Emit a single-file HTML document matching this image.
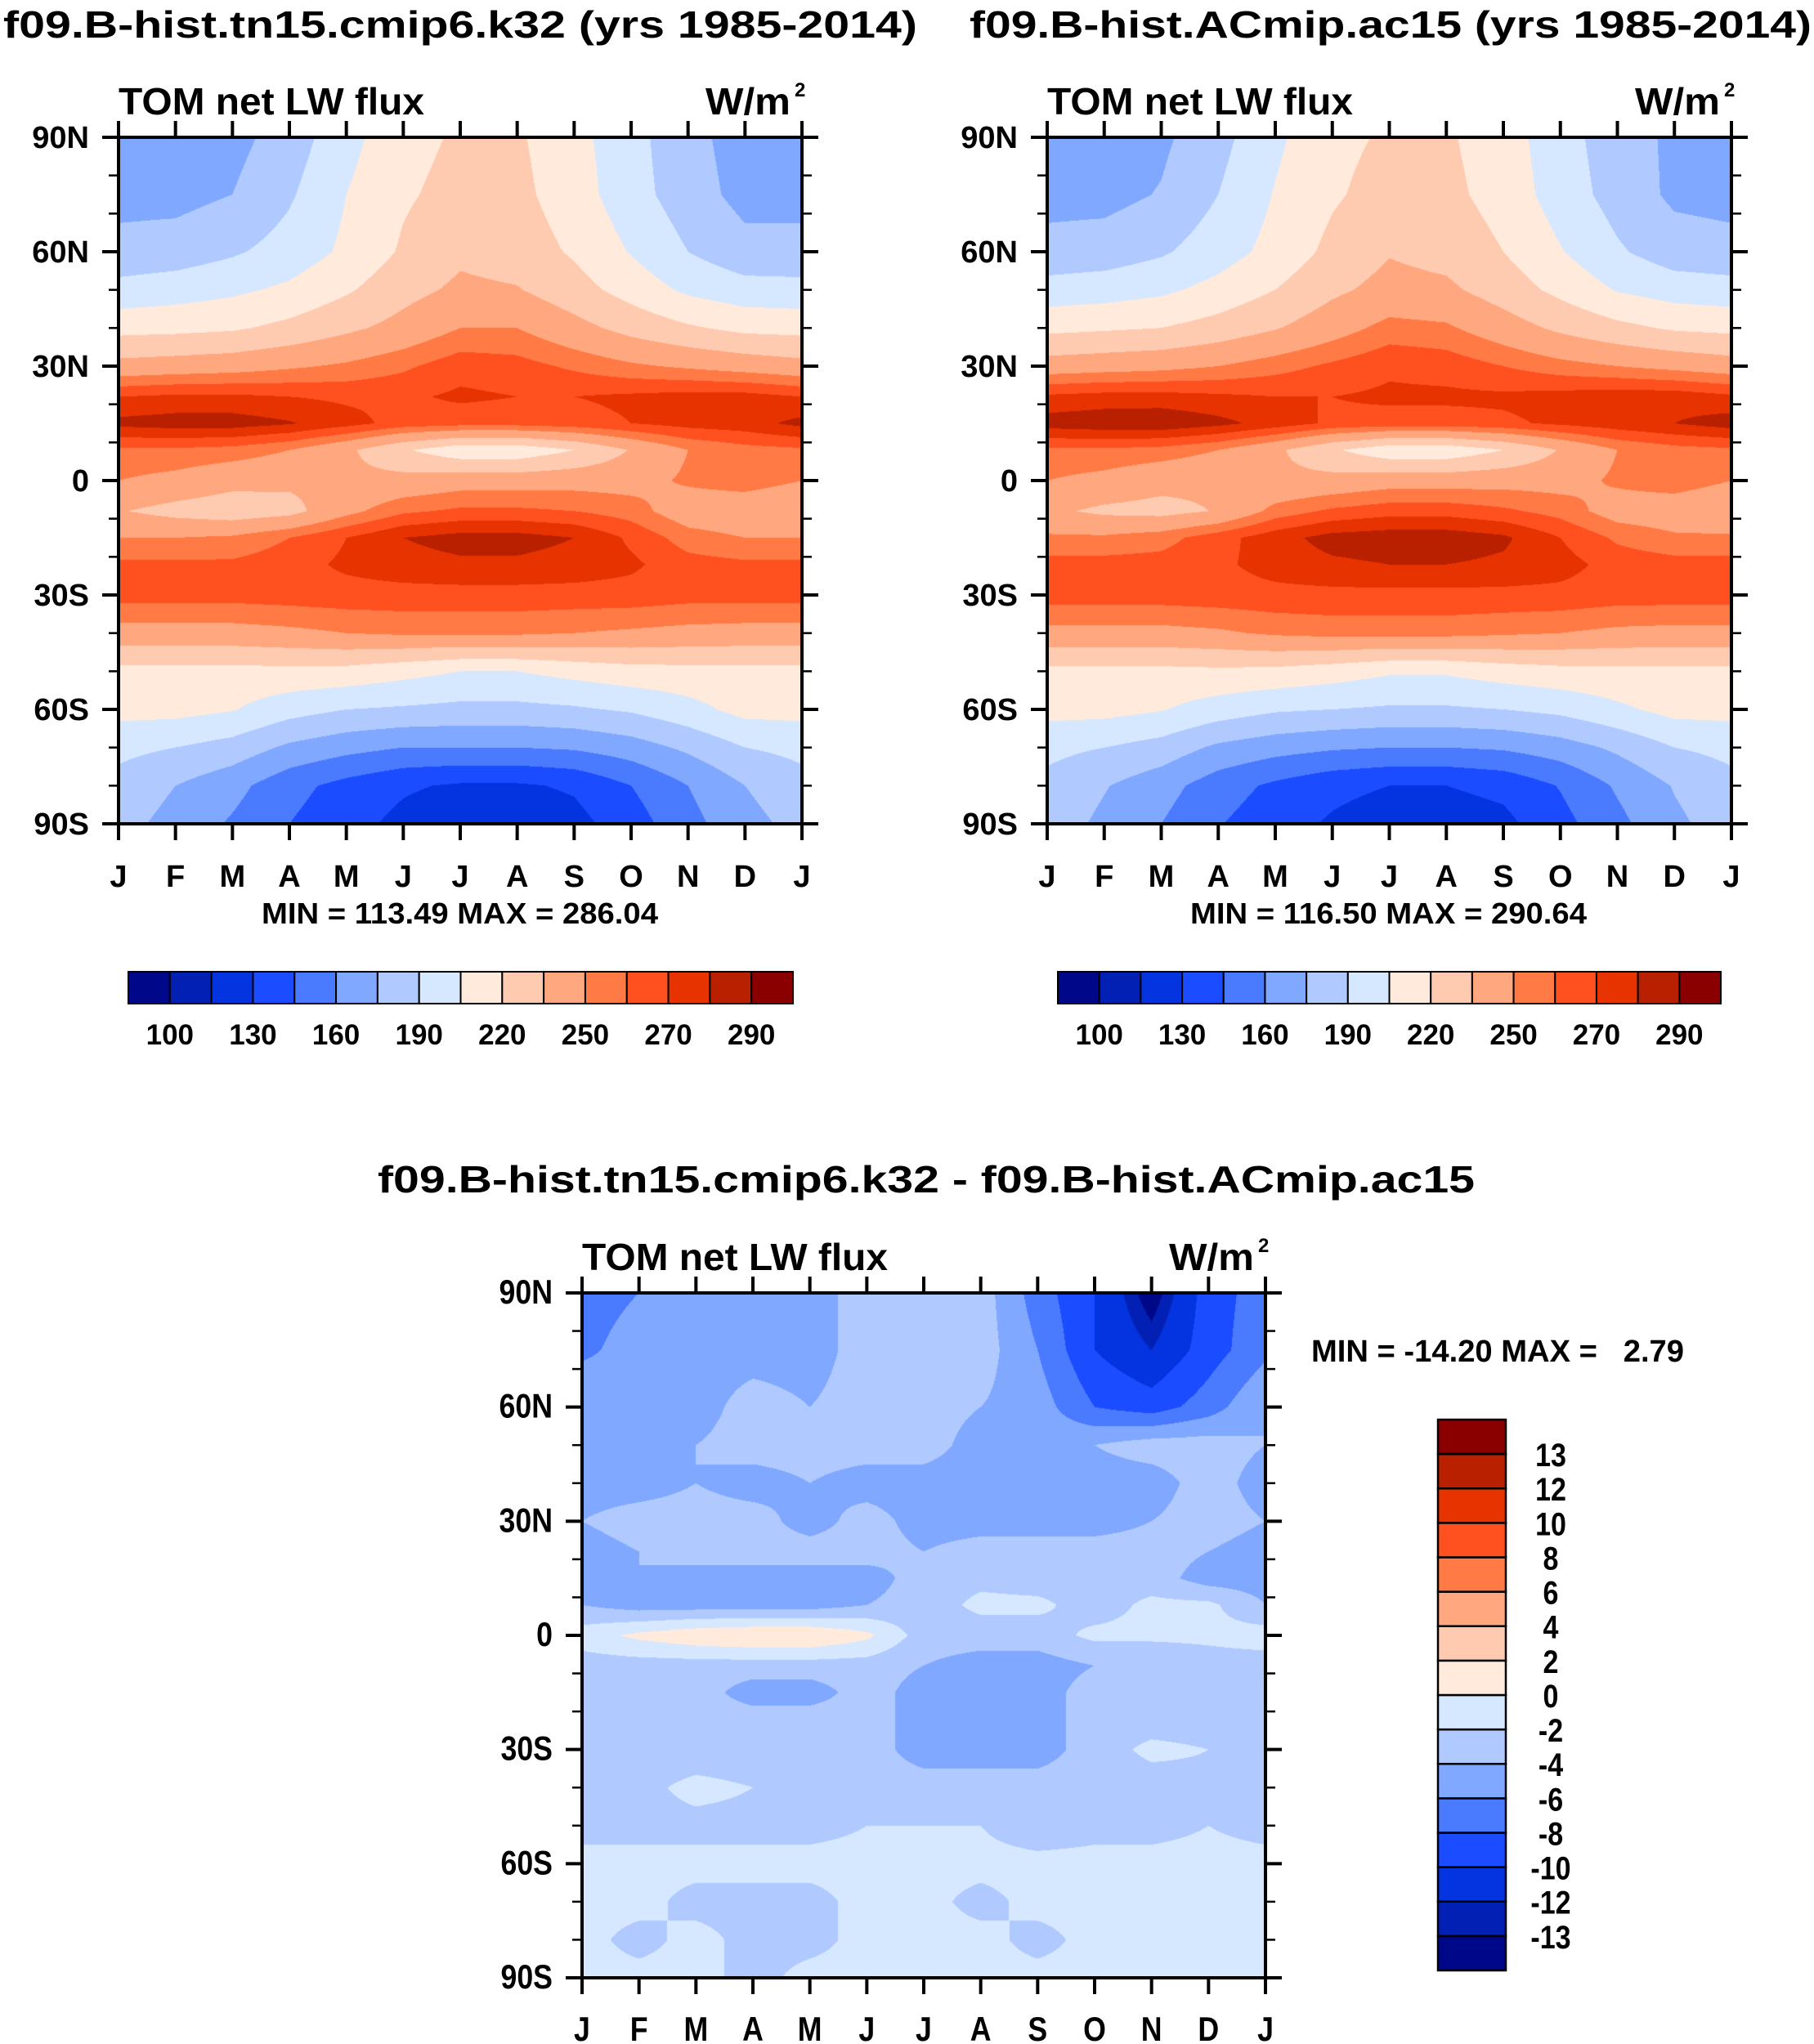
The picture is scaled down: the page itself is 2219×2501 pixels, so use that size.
<!DOCTYPE html>
<html><head><meta charset="utf-8"><style>
html,body{margin:0;padding:0;background:#fff;}
#wrap{position:relative;width:2219px;height:2501px;overflow:hidden;}
canvas{position:absolute;}
svg{position:absolute;left:0;top:0;}
text{font-family:"Liberation Sans",sans-serif;font-weight:bold;fill:#000;white-space:pre;}
</style></head><body>
<div id="wrap">
<canvas id="c1"></canvas>
<canvas id="c2"></canvas>
<canvas id="c3"></canvas>
<svg id="s" width="2219" height="2501"></svg>
</div>
<script>
const months = ["J","F","M","A","M","J","J","A","S","O","N","D","J"];
const lats = [90,75,60,50,40,30,22,15,8,0,-8,-15,-22,-30,-40,-50,-60,-70,-80,-90];
const latTickLabels = ["90N","60N","30N","0","30S","60S","90S"];
const colors = ["#00088a","#0320b4","#0433e0","#1b4cff","#4a7bff","#80a8ff","#b0caff","#d6e8ff","#ffeadb","#ffcbb0","#ffa880","#ff7a45","#ff5020","#e63300","#b82000","#8a0000"];
const levelsAbs = [100,115,130,145,160,175,190,205,220,235,250,260,270,280,290];
const levelsAbsLabels = ["100","","130","","160","","190","","220","","250","","270","","290"];
const levelsDiff = [-13,-12,-10,-8,-6,-4,-2,0,2,4,6,8,10,12,13];
const levelsDiffLabels = ["-13","-12","-10","-8","-6","-4","-2","0","2","4","6","8","10","12","13"];
const fieldK32 = [
[168,168,170,182,200,215,222,222,210,195,180,168,168],
[170,170,175,188,205,218,225,224,212,196,182,170,170],
[180,182,188,196,208,222,232,228,218,204,190,180,180],
[195,198,202,208,218,230,238,236,226,214,202,196,195],
[215,216,218,224,232,240,250,250,240,230,222,216,215],
[240,242,244,248,252,258,266,264,258,252,248,244,240],
[270,272,272,270,268,268,272,270,270,272,274,274,270],
[283,285,285,281,274,266,264,264,266,270,274,276,283],
[258,258,256,250,238,222,210,210,220,236,250,256,258],
[250,246,240,238,238,240,244,244,245,245,252,256,250],
[236,230,226,230,246,258,262,262,260,255,242,240,236],
[250,250,252,260,270,280,284,284,280,268,255,250,250],
[262,262,262,266,272,276,278,278,276,272,264,262,262],
[264,264,264,265,266,266,266,266,266,266,264,264,264],
[245,245,245,247,250,252,252,252,250,248,246,245,245],
[215,215,215,216,215,210,205,205,210,214,215,215,215],
[210,210,206,196,190,188,186,186,188,192,200,210,210],
[194,190,184,172,165,160,160,160,162,168,178,190,194],
[185,175,165,150,140,132,128,128,132,145,160,175,185],
[180,170,158,145,135,126,120,120,125,138,155,170,180]];
const fieldAC15 = [
[168,168,172,185,202,216,222,222,212,196,182,172,168],
[170,170,176,190,206,218,226,224,214,198,184,172,170],
[180,182,188,198,210,224,234,230,220,206,192,182,180],
[196,198,202,210,220,232,240,238,228,216,204,198,196],
[216,218,220,226,234,244,254,252,242,232,224,218,216],
[242,244,246,250,256,262,268,266,260,254,250,246,242],
[272,274,274,272,270,270,272,272,272,274,276,276,272],
[285,287,288,283,276,268,266,266,268,272,276,280,285],
[258,258,256,250,238,222,210,210,220,236,250,256,258],
[250,246,240,238,238,240,244,244,245,245,252,256,250],
[238,232,230,236,254,262,266,266,262,256,244,242,238],
[252,252,256,266,276,284,286,286,282,270,258,252,252],
[264,264,264,268,274,278,280,280,278,274,266,264,264],
[265,265,265,266,267,267,267,267,267,267,265,265,265],
[246,246,246,248,252,254,254,254,252,250,247,246,246],
[216,216,216,217,216,212,207,207,212,215,216,216,216],
[210,210,206,198,192,190,188,188,190,194,202,210,210],
[194,190,184,172,166,162,160,160,162,168,178,190,194],
[186,176,166,152,142,134,130,130,134,146,162,176,186],
[182,172,160,146,136,128,122,122,126,140,156,172,182]];
const fieldDiff = [
[-7,-6,-6,-5,-5,-3,-3,-3,-7,-10,-14,-9,-7],
[-6.5,-5,-5,-5,-5,-3,-3,-3,-6,-10,-12,-9,-6.5],
[-4,-5,-5,-3,-4,-3,-3,-4,-5,-8,-9,-7,-4],
[-4,-4,-4,-3,-3,-3,-3,-5,-5,-4,-3,-3,-4],
[-5,-5,-4,-5,-4,-5,-5,-5,-5,-5,-5,-3,-5],
[-4,-3,-3,-3,-5,-3,-5,-5,-5,-5,-4,-3,-4],
[-5,-4,-3,-3,-3,-3,-4,-3,-3,-3,-3,-4,-5],
[-5,-4,-5,-5,-5,-5,-3,-2.5,-3,-3,-3,-5,-5],
[-4,-5,-5,-5,-5,-4,-3,-1.5,-1.5,-3,-1.5,-1.5,-4],
[-1,0.5,1.5,2,2,0.5,-3,-3,-3,-1.5,-1.5,-1.5,-1],
[-3,-3,-3,-3,-3,-3,-4,-5,-5,-4,-4,-3,-3],
[-3,-3,-3,-5,-5,-3,-5,-5,-5,-3,-3,-3,-3],
[-3,-3,-3,-3,-3,-3,-5,-5,-5,-3,-3,-3,-3],
[-3,-3,-3,-3,-3,-3,-5,-5,-5,-3,-1.5,-2,-3],
[-2.5,-2.5,-1.5,-2,-2.5,-3,-3,-3,-3,-3,-3,-2.5,-2.5],
[-2.5,-2.5,-2.5,-2.5,-2.5,-2,-2,-2,-3,-2.5,-2.5,-2,-2.5],
[-1.5,-1.5,-1.5,-1.5,-1.5,-1.5,-1.5,-1.5,-1.5,-1.5,-1.5,-1.5,-1.5],
[-1.5,-1.5,-2.5,-2.5,-2.5,-1.5,-1.5,-2.5,-1.5,-1.5,-1.5,-1.5,-1.5],
[-1.5,-2.5,-1.5,-2.5,-2.5,-1.5,-1.5,-1.5,-2.5,-1.5,-1.5,-1.5,-1.5],
[-1.5,-1.5,-1.5,-2.5,-1.5,-1.5,-1.5,-1.5,-1.5,-1.5,-1.5,-1.5,-1.5]];

const NS="http://www.w3.org/2000/svg";
const svg=document.getElementById('s');
function el(tag,attrs,parent){const e=document.createElementNS(NS,tag);for(const k in attrs)e.setAttribute(k,attrs[k]);(parent||svg).appendChild(e);return e;}
function txt(str,attrs,name){const t=el('text',attrs);t.textContent=str;


return t;}
function sc(x,s){return s&&s!==1?`translate(${x},0) scale(${s},1) translate(${-x},0)`:'';}

function sample(field,mx,lat){
  let i=0;while(i<lats.length-2&&lat<lats[i+1])i++;
  const fy=(lats[i]-lat)/(lats[i]-lats[i+1]);
  let j=Math.min(11,Math.floor(mx));const fx=mx-j;
  const a=field[i][j],b=field[i][j+1],c=field[i+1][j],d=field[i+1][j+1];
  return (a*(1-fx)+b*fx)*(1-fy)+(c*(1-fx)+d*fx)*fy;
}
function colorIdx(v,levels){let k=0;while(k<levels.length&&v>=levels[k])k++;return k;}
function hex(h){return [parseInt(h.substr(1,2),16),parseInt(h.substr(3,2),16),parseInt(h.substr(5,2),16)];}
const rgb=colors.map(hex);

function drawPanel(cid,field,levels,x0,y0,w,h,ts){
  const cv=document.getElementById(cid);
  cv.width=w;cv.height=h;cv.style.left=x0+'px';cv.style.top=y0+'px';
  const ctx=cv.getContext('2d');const img=ctx.createImageData(w,h);
  for(let py=0;py<h;py++){const lat=90-180*(py+0.5)/h;
    for(let px=0;px<w;px++){const mx=12*(px+0.5)/w;
      const c=rgb[colorIdx(sample(field,mx,lat),levels)];const o=(py*w+px)*4;
      img.data[o]=c[0];img.data[o+1]=c[1];img.data[o+2]=c[2];img.data[o+3]=255;}}
  ctx.putImageData(img,0,0);
  const g=el('g',{});
  
  
  el('rect',{x:x0,y:y0,width:w,height:h,fill:'none',stroke:'#000','stroke-width':4},g);
  const Y=lat=>y0+(90-lat)/180*h, X=m=>x0+m/12*w;
  const fs=ts?42:38;
  for(let lat=-90;lat<=90;lat+=10){const maj=lat%30===0;const L=maj?20:12;
    el('line',{x1:x0-L,y1:Y(lat),x2:x0,y2:Y(lat),stroke:'#000','stroke-width':maj?4:2.5},g);
    el('line',{x1:x0+w,y1:Y(lat),x2:x0+w+L,y2:Y(lat),stroke:'#000','stroke-width':maj?4:2.5},g);}
  latTickLabels.forEach((s,k)=>{const lat=90-30*k;
    txt(s,{x:x0-36,y:Y(lat)+13,'font-size':fs,'text-anchor':'end',transform:sc(x0-36,ts)},'y-tick-label');});
  months.forEach((s,k)=>{
    el('line',{x1:X(k),y1:y0-20,x2:X(k),y2:y0,stroke:'#000','stroke-width':4},g);
    el('line',{x1:X(k),y1:y0+h,x2:X(k),y2:y0+h+20,stroke:'#000','stroke-width':4},g);
    txt(s,{x:X(k),y:y0+h+77,'font-size':fs,'text-anchor':'middle',transform:sc(X(k),ts)},'x-tick-label');});
  txt('TOM net LW flux',{x:x0,y:y0-28,'font-size':46,textLength:374,lengthAdjust:'spacingAndGlyphs'},'panel-subtitle');
  txt('W/m',{x:x0+w-118,y:y0-28,'font-size':46,textLength:104,lengthAdjust:'spacingAndGlyphs'},'units-label');
  txt('2',{x:x0+w-9,y:y0-50,'font-size':24},'units-superscript');
}
function hbar(x0,y0,w,h,labels){
  const n=colors.length,bw=w/n;
  colors.forEach((c,k)=>{const r=el('rect',{x:x0+k*bw,y:y0,width:bw,height:h,fill:c,stroke:'#000','stroke-width':2});
    
    });
  labels.forEach((s,k)=>{if(s)txt(s,{x:x0+(k+1)*bw,y:y0+h+50,'font-size':35,'text-anchor':'middle'},'colorbar-label');});
}
function vbar(x0,y0,w,h,labels){
  const n=colors.length,bh=h/n;
  colors.forEach((c,k)=>{const r=el('rect',{x:x0,y:y0+(n-1-k)*bh,width:w,height:bh,fill:c,stroke:'#000','stroke-width':2.5});
    
    });
  labels.forEach((s,k)=>{const yy=y0+(n-1-k)*bh+15;const xx=x0+w+55;
    txt(s,{x:xx,y:yy,'font-size':40,'text-anchor':'middle',transform:sc(xx,0.85)},'colorbar-label');});
}

drawPanel('c1',fieldK32,levelsAbs,145,168,836,840);
drawPanel('c2',fieldAC15,levelsAbs,1281,168,837,840);
drawPanel('c3',fieldDiff,levelsDiff,712,1582,836,838,0.85);

txt('f09.B-hist.tn15.cmip6.k32 (yrs 1985-2014)',{x:4,y:46,'font-size':46,textLength:1118,lengthAdjust:'spacingAndGlyphs'},'left-title');
txt('f09.B-hist.ACmip.ac15 (yrs 1985-2014)',{x:1186,y:46,'font-size':46,textLength:1030,lengthAdjust:'spacingAndGlyphs'},'right-title');
txt('f09.B-hist.tn15.cmip6.k32 - f09.B-hist.ACmip.ac15',{x:462,y:1459,'font-size':46,textLength:1342,lengthAdjust:'spacingAndGlyphs'},'difference-title');
txt('MIN = 113.49 MAX = 286.04',{x:320,y:1130,'font-size':36,textLength:485,lengthAdjust:'spacingAndGlyphs'},'min-max-left');
txt('MIN = 116.50 MAX = 290.64',{x:1456,y:1130,'font-size':36,textLength:485,lengthAdjust:'spacingAndGlyphs'},'min-max-right');
txt('MIN = -14.20 MAX =   2.79',{x:1604,y:1666,'font-size':38,textLength:456,lengthAdjust:'spacingAndGlyphs'},'min-max-difference');

hbar(157,1189,813,39,levelsAbsLabels);
hbar(1294,1189,811,39,levelsAbsLabels);
vbar(1759,1737,83,674,levelsDiffLabels);
</script>
</body></html>
